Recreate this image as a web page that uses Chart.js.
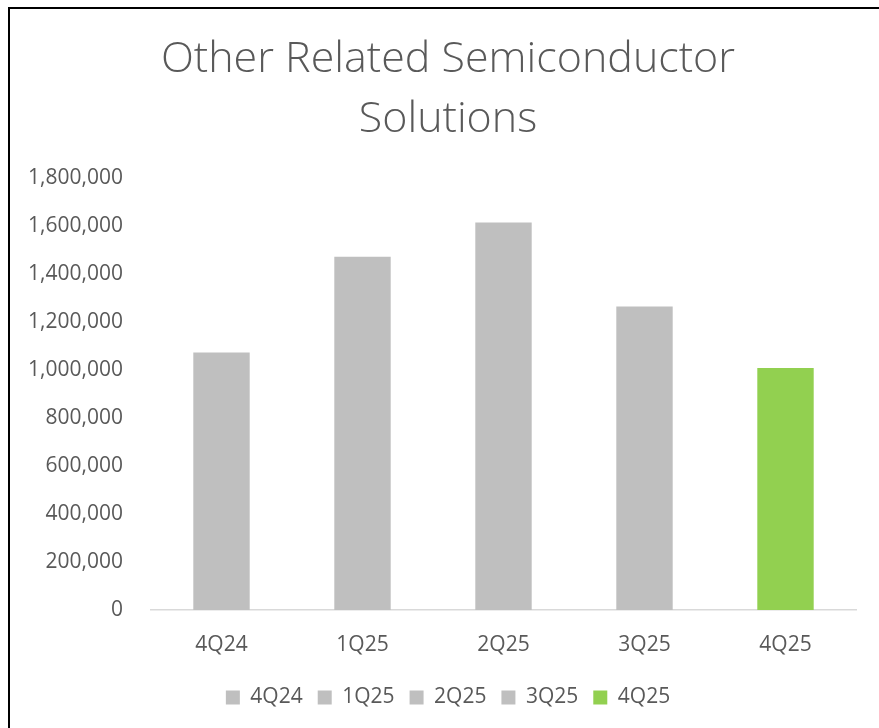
<!DOCTYPE html>
<html>
<head>
<meta charset="utf-8">
<script src="https://cdn.jsdelivr.net/npm/chart.js@4.4.1/dist/chart.umd.min.js"></script>
<style>
  html, body { margin: 0; padding: 0; background: #fff; overflow: hidden; }
  /* the original chart runs past the right edge of the picture, so the canvas does too */
  #wrap { position: absolute; left: 0; top: 0; width: 896px; height: 728px; }
  #frame { position: absolute; left: 8px; top: 7px; width: 1000px; height: 1000px;
           border-left: 2px solid #000; border-top: 2px solid #000; pointer-events: none; }
</style>
</head>
<body>
<div id="frame"></div>
<div id="wrap"><canvas id="myChart"></canvas></div>
<script>
const categories = ["4Q24", "1Q25", "2Q25", "3Q25", "4Q25"];
const revenue = [1073000, 1472000, 1615000, 1265000, 1008000];
const yTicks = [0, 200000, 400000, 600000, 800000, 1000000, 1200000, 1400000, 1600000, 1800000];
const barColors = ["#BFBFBF", "#BFBFBF", "#BFBFBF", "#BFBFBF", "#92D050"];

const textGray = "#595959";

const ctx = document.getElementById("myChart").getContext("2d");

const myChart = new Chart(ctx, {
    type: "bar",
    data: {
        labels: categories,
        datasets: [
            {
                data: revenue,
                backgroundColor: barColors,
                borderWidth: 0,
                barPercentage: 0.4,
                categoryPercentage: 1.0
            }
        ]
    },
    options: {
        responsive: true,
        maintainAspectRatio: false,
        animation: false,
        layout: { padding: { left: 0, right: 0, top: 0, bottom: 10 } },
        plugins: {
            title: {
                display: true,
                text: ["Other Related Semiconductor", "Solutions"],
                color: textGray,
                font: { family: "'Open Sans'", size: 43, weight: "300", lineHeight: "59.5px" },
                padding: { top: 30, bottom: 29 }
            },
            legend: {
                display: true,
                position: "bottom",
                labels: {
                    color: textGray,
                    font: { family: "'Open Sans'", size: 21 },
                    boxWidth: 14,
                    boxHeight: 14,
                    padding: 15,
                    generateLabels: function (chart) {
                        return categories.map(function (c, i) {
                            return {
                                text: c,
                                fillStyle: barColors[i],
                                strokeStyle: barColors[i],
                                lineWidth: 0,
                                fontColor: textGray,
                                hidden: false,
                                index: i
                            };
                        });
                    }
                },
                onClick: function () {}
            },
            tooltip: { enabled: false }
        },
        scales: {
            x: {
                afterFit: function (scale) { scale.height = 62; },
                grid: { display: false, drawTicks: false },
                border: { display: true, color: "#D9D9D9", width: 1.5 },
                ticks: {
                    color: textGray,
                    font: { family: "'Open Sans'", size: 21 },
                    padding: 22
                }
            },
            y: {
                min: 0,
                max: 1800000,
                afterFit: function (scale) { scale.width = 151; },
                afterBuildTicks: function (scale) {
                    scale.ticks = yTicks.map(function (v) { return { value: v }; });
                },
                grid: { display: false, drawTicks: false },
                border: { display: false },
                ticks: {
                    color: textGray,
                    font: { family: "'Open Sans'", size: 21 },
                    padding: 28,
                    callback: function (v) { return v.toLocaleString("en-US"); }
                }
            },
            // empty right-hand gutter, keeps plot right edge at 856
            gutter: {
                position: "right",
                display: true,
                afterFit: function (scale) { scale.width = 40; },
                grid: { display: false, drawTicks: false },
                border: { display: false },
                ticks: { display: false }
            }
        }
    }
});
</script>
</body>
</html>
